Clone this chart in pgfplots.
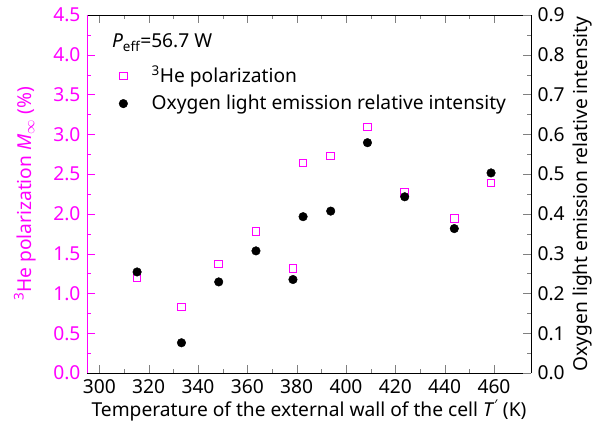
\documentclass[border=0pt]{standalone}
\usepackage{fontspec}
\setmainfont{Noto Sans}
\usepackage{pgfplots}
\pgfplotsset{compat=1.18}
\definecolor{mag}{RGB}{255,0,255}
\pgfplotstableread{
T M
315.3 1.20
333.3 0.83
348.4 1.37
363.5 1.78
378.5 1.31
382.6 2.64
393.8 2.73
408.7 3.09
423.8 2.27
443.9 1.94
458.8 2.39
}\polar
\pgfplotstableread{
T I
315.3 0.254
333.3 0.076
348.4 0.229
363.5 0.307
378.5 0.235
382.6 0.393
393.8 0.407
408.7 0.579
423.8 0.443
443.9 0.363
458.8 0.503
}\oxy
\begin{document}
\fontsize{19.2}{22}\selectfont
\begin{tikzpicture}
\useasboundingbox (-87pt,-63pt) rectangle (509pt,373pt);
\begin{axis}[
  width=444pt, height=358pt, scale only axis,
  xmin=295, xmax=475, ymin=0, ymax=4.5,
  xtick={300,320,...,460},
  ytick={0,0.5,1,1.5,2,2.5,3,3.5,4,4.5},
  minor x tick num=1, minor y tick num=1,
  tick align=inside,
  major tick length=8pt, minor tick length=4pt,
  axis x line*=box, axis y line*=left,
  x axis line style={-, black},
  y axis line style={-, draw=mag},
  ytick style={mag}, yticklabel style={mag},
  /pgf/number format/assume math mode=true,
  yticklabel style={/pgf/number format/fixed, /pgf/number format/fixed zerofill, /pgf/number format/precision=1},
  xlabel={Temperature of the external wall of the cell \textit{T}\textsuperscript{′} (K)},
  xlabel style={at={(axis description cs:0.5,-0.105)}, anchor=center},
  ylabel={\textsuperscript{3}He polarization \textit{M}$_\infty$ (\%)},
  ylabel style={mag, at={(axis description cs:-0.14,0.5)}, anchor=center},
  legend style={draw=none, fill=none, at={(axis description cs:0.065,0.87)}, anchor=north west, column sep=22pt, row sep=5pt},
  legend cell align=left,
]
\addplot[only marks, mark=square, draw=mag, mark size=3.8pt, line width=1pt] table[x=T,y=M]{\polar};
\addlegendentry{\textsuperscript{3}He polarization}
\addlegendimage{only marks, mark=*, black, mark size=4.3pt}
\addlegendentry{Oxygen light emission relative intensity}
\end{axis}
\begin{axis}[
  width=444pt, height=358pt, scale only axis,
  xmin=295, xmax=475, ymin=0, ymax=0.9,
  axis x line=none, axis y line*=right,
  y axis line style={-},
  ytick={0,0.1,0.2,0.3,0.4,0.5,0.6,0.7,0.8,0.9},
  minor y tick num=1,
  tick align=inside,
  major tick length=8pt, minor tick length=4pt,
  /pgf/number format/assume math mode=true,
  yticklabel style={/pgf/number format/fixed, /pgf/number format/fixed zerofill, /pgf/number format/precision=1},
  ylabel={Oxygen light emission relative intensity},
  ylabel style={at={(axis description cs:1.115,0.5)}, anchor=center},
]
\addplot[only marks, mark=*, black, mark size=4.3pt] table[x=T,y=I]{\oxy};
\node[anchor=base west, inner sep=0pt] at (axis description cs:0.056,0.908) {\textit{P}\textsubscript{eff}=56.7 W};
\end{axis}
\end{tikzpicture}
\end{document}
